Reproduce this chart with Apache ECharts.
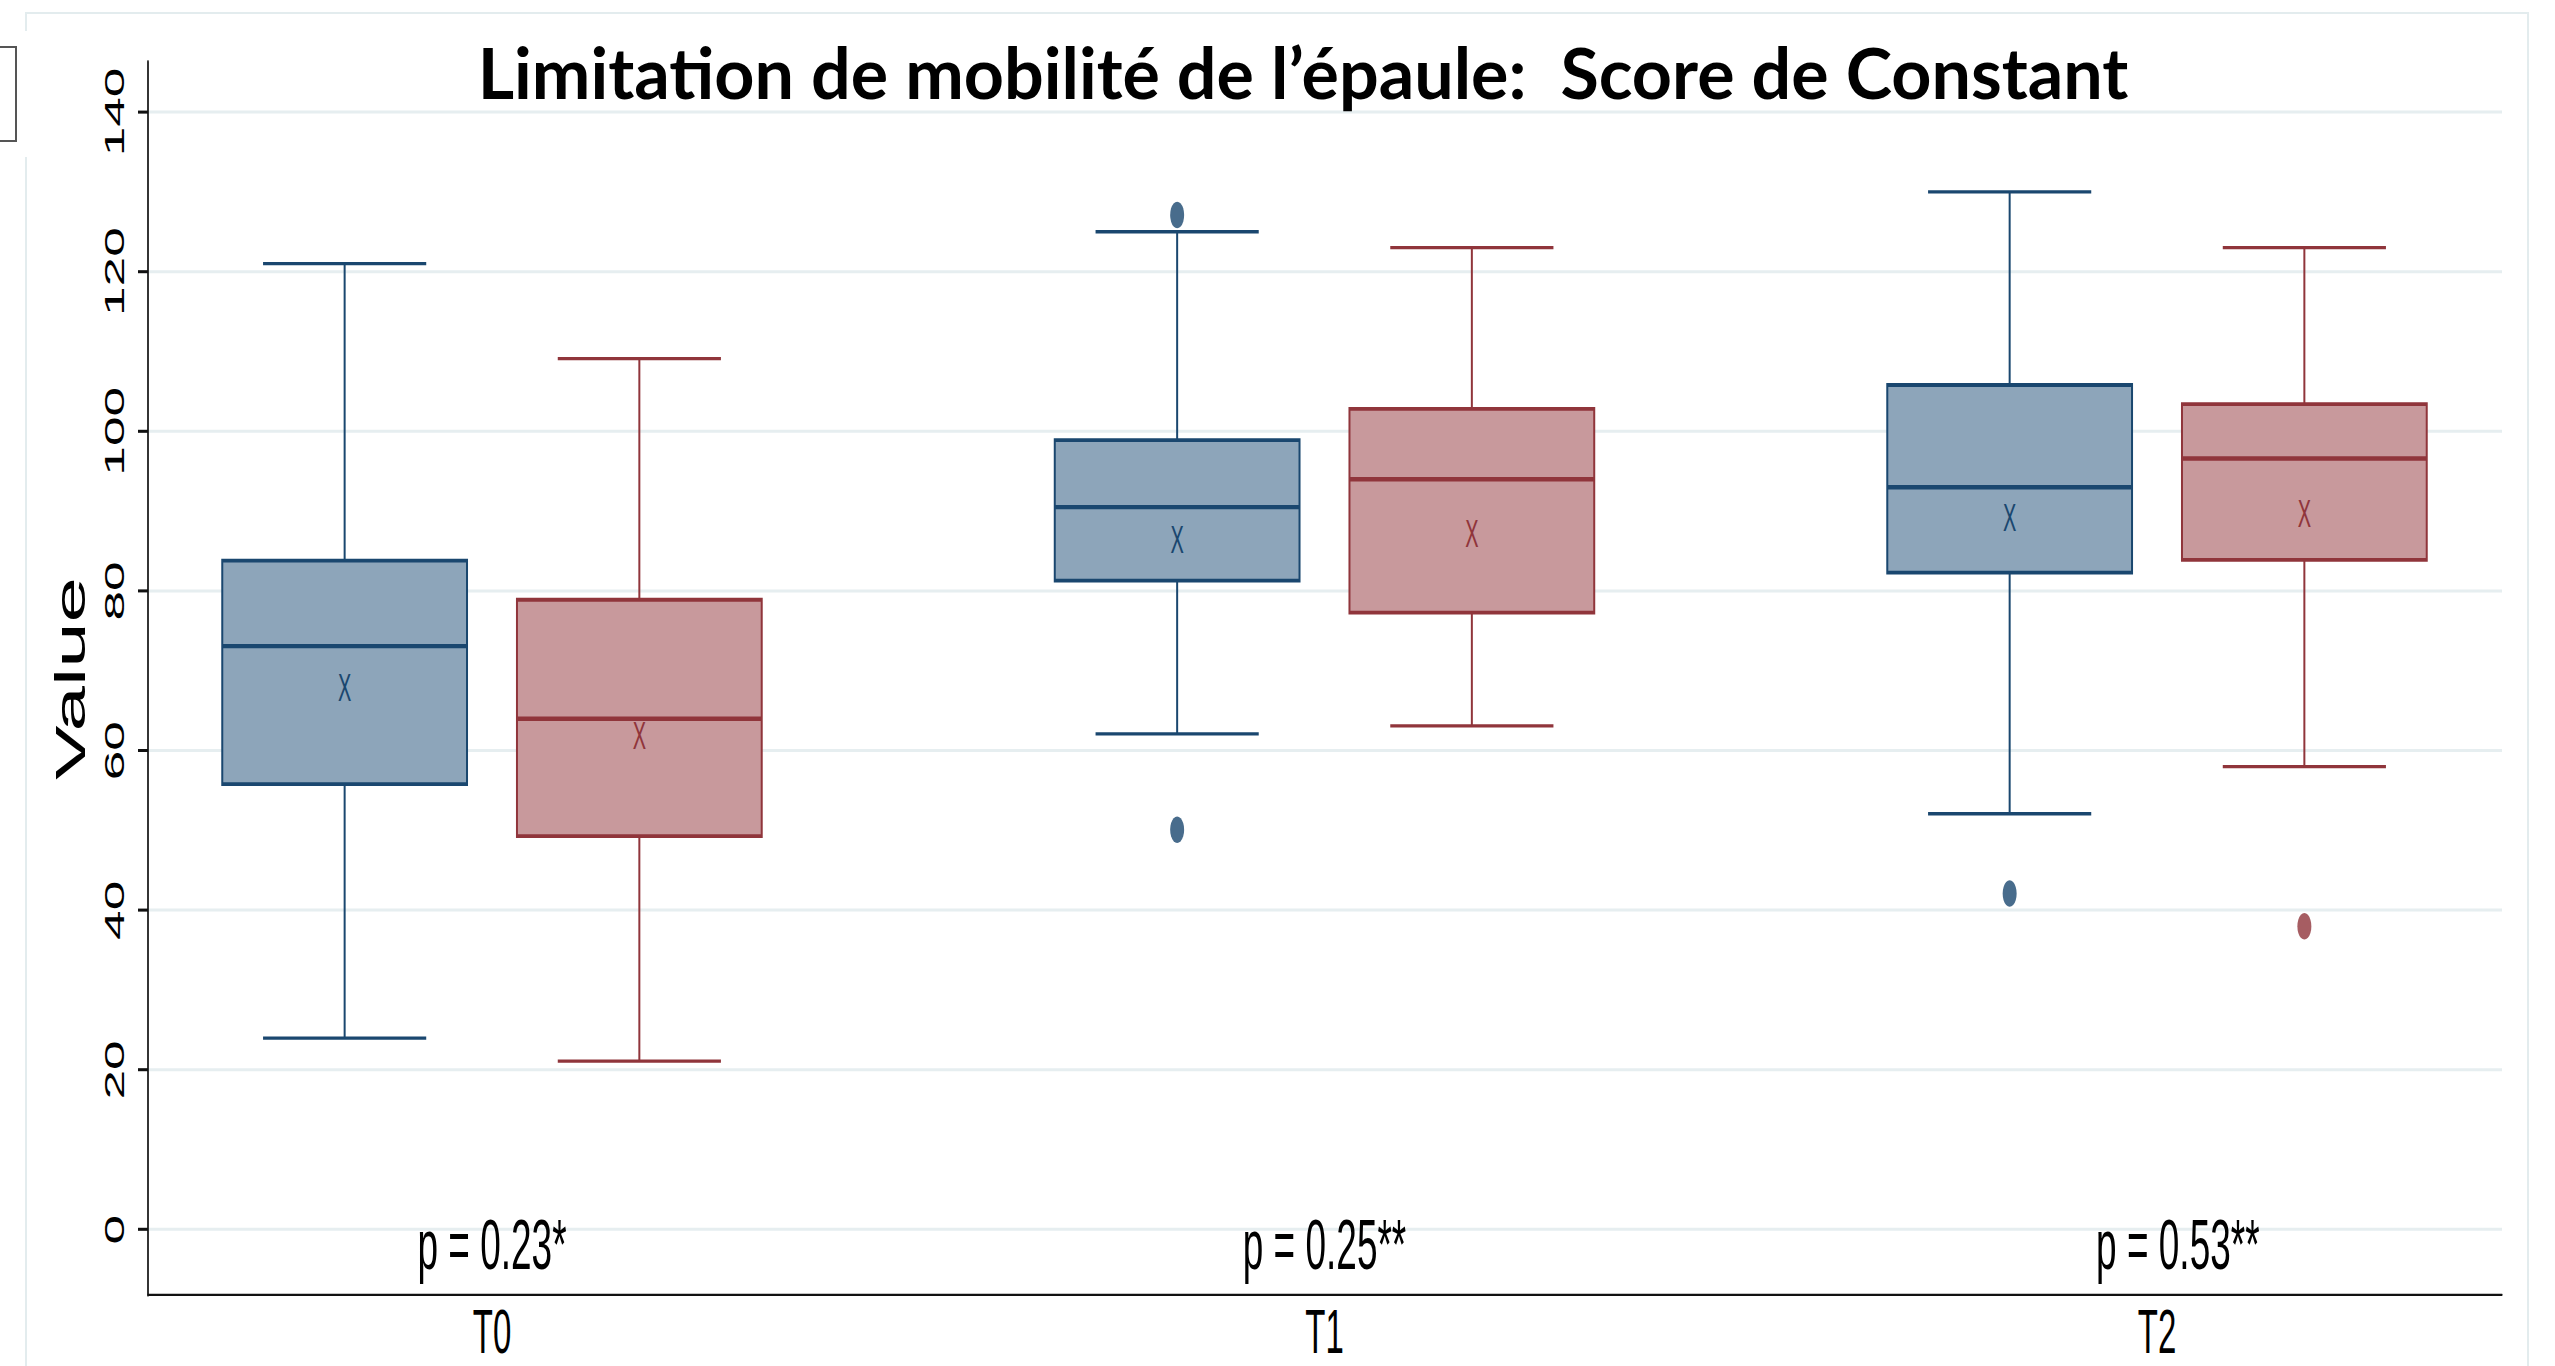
<!DOCTYPE html>
<html>
<head>
<meta charset="utf-8">
<title>Score de Constant</title>
<script src="https://cdn.jsdelivr.net/npm/echarts@6.0.0/dist/echarts.min.js"></script>
<style>
  html, body { margin: 0; padding: 0; background: #fff; overflow: hidden; }
  #chart { position: absolute; left: 0; top: 0; width: 2555px; transform-origin: 0 0; }
  #overlay { position: absolute; left: 0; top: 0; width: 2555px; height: 1366px; pointer-events: none; }
</style>
</head>
<body>
<div id="chart"></div>
<div id="overlay"></div>
<script>
const categories = ['T0', 'T1', 'T2']
const yTicks = [0, 20, 40, 60, 80, 100, 120, 140]

// [lower whisker, Q1, median, Q3, upper whisker]
const boxesBlue = [
  [24, 55.8, 73.1, 83.8, 121],
  [62.1, 81.3, 90.5, 98.9, 125],
  [52.1, 82.3, 93, 105.8, 130]
]
const boxesRed = [
  [21.1, 49.3, 64, 78.9, 109.1],
  [63.1, 77.3, 94, 102.8, 123],
  [58, 83.9, 96.6, 103.4, 123]
]
const meansBlue = [67.9, 86.4, 89.1]
const meansRed = [61.9, 87.1, 89.6]
// [category index, value]
const outliersBlue = [[1, 127.1], [1, 50.1], [2, 42.1]]
const outliersRed = [[2, 38]]
const pLabels = ['p = 0.23*', 'p = 0.25**', 'p = 0.53**']

const BLUE = '#1a476f'
const BLUE_FILL = '#8da5ba'
const RED = '#90353b'
const RED_FILL = '#c8999c'
const FONT = 'Liberation Sans'

// the original graph is stretched vertically: draw it squat, then stretch it back
const STRETCH = 1.9
const H = 1366 / STRETCH
const SHIFT = 0.177   // box offset from the category centre, in axis units
const BOX_W = 0.294
const CAP_W = 0.196
const P_Y = -1.9
const P_NUDGE = [0, 0, 0.025]  // the last p label sits a bit right of its group

const chartDom = document.getElementById('chart')
chartDom.style.height = H + 'px'
chartDom.style.transform = 'scaleY(' + STRETCH + ')'

const renderBox = (api, shift, color, fill) => {
  const i = api.value(0)
  const unit = api.size([1, 0])[0]
  const cx = api.coord([i + shift, 0])[0]
  const y = [1, 2, 3, 4, 5].map(d => api.coord([i, api.value(d)])[1])
  const half = unit * BOX_W / 2
  const cap = unit * CAP_W / 2
  const line = (x1, y1, x2, y2, w) => ({
    type: 'line',
    shape: { x1, y1, x2, y2 },
    style: { stroke: color, lineWidth: w }
  })
  return {
    type: 'group',
    children: [
      line(cx, y[3], cx, y[4], 2),
      line(cx, y[1], cx, y[0], 2),
      line(cx - cap, y[4], cx + cap, y[4], 1.75),
      line(cx - cap, y[0], cx + cap, y[0], 1.75),
      {
        type: 'rect',
        shape: { x: cx - half, y: y[3], width: half * 2, height: y[1] - y[3] },
        style: { fill, stroke: color, lineWidth: 2 }
      },
      line(cx - half, y[2], cx + half, y[2], 2.3)
    ]
  }
}

const renderMean = (api, shift, color) => {
  const p = api.coord([api.value(0) + shift, api.value(1)])
  return {
    type: 'text',
    x: p[0],
    y: p[1],
    style: { text: 'X', fontFamily: FONT, fontSize: 20, fill: color, align: 'center', verticalAlign: 'middle' }
  }
}

const chart = echarts.init(chartDom, null, { renderer: 'svg' })

const option = {
  backgroundColor: '#fff',
  animation: false,
  grid: {
    left: 148,
    right: 53,
    top: 61.7 / STRETCH,
    bottom: (1366 - 1295) / STRETCH
  },
  xAxis: {
    type: 'value',
    min: -0.4132,
    max: 2.4144,
    axisLine: { show: true, onZero: false, lineStyle: { color: '#111', width: 1.2 } },
    axisTick: { show: false },
    splitLine: { show: false },
    axisLabel: {
      customValues: [0, 1, 2],
      formatter: v => categories[v],
      fontFamily: FONT,
      fontSize: 33,
      color: '#000',
      margin: 3
    }
  },
  yAxis: {
    type: 'value',
    min: -8.2,
    max: 146.3,
    name: 'Value',
    nameLocation: 'middle',
    nameRotate: 90,
    nameGap: 56,
    nameTextStyle: { fontFamily: FONT, fontSize: 43, color: '#000' },
    axisLine: { show: true, onZero: false, lineStyle: { color: '#111', width: 1.7 } },
    axisTick: { show: true, customValues: yTicks, length: 10, lineStyle: { color: '#111', width: 1.6 } },
    axisLabel: {
      customValues: yTicks,
      rotate: 90,
      fontFamily: FONT,
      fontSize: 28,
      color: '#000',
      margin: 20
    },
    splitLine: { show: true, lineStyle: { color: '#e6eef0', width: 1.6 } }
  },
  series: [
    {
      type: 'custom',
      name: 'blue',
      data: boxesBlue.map((b, i) => [i, ...b]),
      encode: { x: 0, y: [1, 2, 3, 4, 5] },
      renderItem: (params, api) => renderBox(api, -SHIFT, BLUE, BLUE_FILL),
      silent: true
    },
    {
      type: 'custom',
      name: 'red',
      data: boxesRed.map((b, i) => [i, ...b]),
      encode: { x: 0, y: [1, 2, 3, 4, 5] },
      renderItem: (params, api) => renderBox(api, SHIFT, RED, RED_FILL),
      silent: true
    },
    {
      type: 'custom',
      name: 'blue mean',
      data: meansBlue.map((m, i) => [i, m]),
      renderItem: (params, api) => renderMean(api, -SHIFT, BLUE),
      silent: true,
      z: 5
    },
    {
      type: 'custom',
      name: 'red mean',
      data: meansRed.map((m, i) => [i, m]),
      renderItem: (params, api) => renderMean(api, SHIFT, RED),
      silent: true,
      z: 5
    },
    {
      type: 'scatter',
      name: 'blue outliers',
      data: outliersBlue.map(([i, v]) => [i - SHIFT, v]),
      symbol: 'circle',
      symbolSize: 14,
      itemStyle: { color: BLUE },
      silent: true,
      z: 6
    },
    {
      type: 'scatter',
      name: 'red outliers',
      data: outliersRed.map(([i, v]) => [i + SHIFT, v]),
      symbol: 'circle',
      symbolSize: 14,
      itemStyle: { color: RED },
      silent: true,
      z: 6
    },
    {
      type: 'custom',
      name: 'p values',
      data: pLabels.map((t, i) => [i, P_Y]),
      renderItem: (params, api) => {
        const i = params.dataIndex
        const p = api.coord([api.value(0) + P_NUDGE[i], api.value(1)])
        return {
          type: 'text',
          x: p[0],
          y: p[1],
          style: {
            text: pLabels[i],
            fontFamily: FONT,
            fontSize: 37,
            fill: '#000',
            align: 'center',
            verticalAlign: 'middle'
          }
        }
      },
      silent: true,
      z: 7
    }
  ]
}

chart.setOption(option)

// title and outer frame are not stretched
const overlay = echarts.init(document.getElementById('overlay'), null, { renderer: 'svg' })
overlay.setOption({
  animation: false,
  graphic: [
    {
      type: 'polyline',
      shape: { points: [[26, 31], [26, 13], [2528, 13], [2528, 1370]] },
      style: { fill: null, stroke: '#e3ecee', lineWidth: 2 },
      silent: true
    },
    {
      type: 'line',
      shape: { x1: 26, y1: 157, x2: 26, y2: 1370 },
      style: { stroke: '#e3ecee', lineWidth: 2 },
      silent: true
    },
    {
      type: 'rect',
      shape: { x: -6, y: 47, width: 22, height: 94 },
      style: { fill: '#fff', stroke: '#555', lineWidth: 2 },
      silent: true
    },
    {
      type: 'text',
      x: 1303,
      y: 72,
      style: {
        text: 'Limitation de mobilité de l’épaule:  Score de Constant',
        fontFamily: 'Lato',
        fontWeight: 'bold',
        fontSize: 70,
        fill: '#000',
        align: 'center',
        verticalAlign: 'middle'
      },
      silent: true
    }
  ]
})

window.addEventListener('resize', () => {
  chart.resize()
  overlay.resize()
})
</script>
</body>
</html>
